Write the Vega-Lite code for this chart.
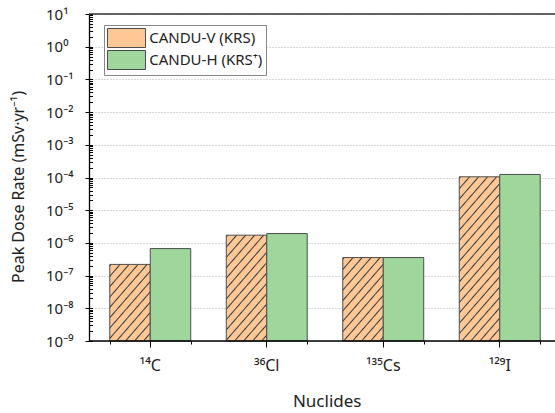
{
  "$schema": "https://vega.github.io/schema/vega-lite/v6.json",
  "width": 466,
  "height": 327,
  "autosize": {"type": "none"},
  "padding": {"left": 89, "top": 14, "right": 0, "bottom": 72},
  "background": "white",
  "config": {"view": {"stroke": null}, "font": "Noto Sans"},
  "data": {"values": [
    {"nuclide": "¹⁴C", "series": "CANDU-V (KRS)", "value": 2.2e-7},
    {"nuclide": "¹⁴C", "series": "CANDU-H (KRS⁺)", "value": 6.7e-7},
    {"nuclide": "³⁶Cl", "series": "CANDU-V (KRS)", "value": 1.72e-6},
    {"nuclide": "³⁶Cl", "series": "CANDU-H (KRS⁺)", "value": 1.93e-6},
    {"nuclide": "¹³⁵Cs", "series": "CANDU-V (KRS)", "value": 3.56e-7},
    {"nuclide": "¹³⁵Cs", "series": "CANDU-H (KRS⁺)", "value": 3.56e-7},
    {"nuclide": "¹²⁹I", "series": "CANDU-V (KRS)", "value": 1.05e-4},
    {"nuclide": "¹²⁹I", "series": "CANDU-H (KRS⁺)", "value": 1.24e-4}
  ]},
  "resolve": {"axis": {"x": "independent", "y": "independent"}},
  "layer": [
    {
      "mark": {"type": "bar", "stroke": "#4d4d4d", "strokeWidth": 1},
      "encoding": {
        "x": {"field": "nuclide", "type": "nominal", "sort": ["¹⁴C", "³⁶Cl", "¹³⁵Cs", "¹²⁹I"],
          "scale": {"range": [3, 469], "paddingInner": 0.305, "paddingOuter": 0.1525},
          "axis": {"orient": "bottom", "domain": false, "tickSize": 6, "tickColor": "#000", "labelAngle": 0,
            "labelFont": "Noto Sans", "labelFontSize": 16, "labelColor": "#222", "labelBaseline": "alphabetic", "labelPadding": 23.7,
            "title": "Nuclides", "titleFont": "Noto Sans", "titleFontSize": 17, "titleFontWeight": "normal", "titleColor": "#222",
            "titleX": 237.7, "titleY": 65.7, "titleBaseline": "alphabetic", "titleAlign": "center"}},
        "xOffset": {"field": "series", "type": "nominal", "sort": ["CANDU-V (KRS)", "CANDU-H (KRS⁺)"]},
        "y": {"field": "value", "type": "quantitative",
          "scale": {"type": "log", "domain": [1e-9, 10], "nice": false},
          "axis": {"orient": "left", "values": [1e-9, 1e-8, 1e-7, 1e-6, 1e-5, 1e-4, 0.001, 0.01, 0.1, 1, 10],
            "tickSize": 4, "tickColor": "#000", "domainColor": "#000", "domainWidth": 1.3,
            "labelFont": "Noto Sans", "labelFontSize": 15, "labelColor": "#222", "labelAlign": "left", "labelPadding": 39.5,
            "labelBaseline": "middle", "labelOverlap": false,
            "labelExpr": "'10' + (datum.value < 0.5 ? '⁻' : '') + substring('⁰¹²³⁴⁵⁶⁷⁸⁹', abs(round(log(datum.value)/LN10)), abs(round(log(datum.value)/LN10)) + 1)",
            "grid": true, "gridColor": "#b0b0b0", "gridDash": [1, 2], "gridWidth": 1,
            "title": "Peak Dose Rate (mSv·yr⁻¹)", "titleFont": "Noto Sans", "titleFontSize": 16, "titleFontWeight": "normal", "titleColor": "#222",
            "titleX": -65.5, "titleY": 172.5, "titleAngle": 270, "titleBaseline": "alphabetic", "titleAlign": "center"}},
        "y2": {"datum": 1e-9},
        "fill": {"field": "series", "type": "nominal",
          "scale": {"domain": ["CANDU-V (KRS)", "CANDU-H (KRS⁺)"], "range": ["#fdc896", "#9fd69c"]},
          "legend": {"orient": "none", "legendX": 15, "legendY": 11, "title": null, "padding": 3,
            "strokeColor": "#888", "fillColor": "#fff",
            "symbolType": "M-2,-1H2V1H-2Z", "symbolSize": 361, "symbolOffset": 9.5, "symbolStrokeColor": "#4d4d4d", "symbolStrokeWidth": 1, "symbolOpacity": 1,
            "labelFont": "Noto Sans", "labelFontSize": 15, "labelColor": "#222", "labelOffset": 12.7, "rowPadding": -3,
            "labelExpr": "datum.label + '\u00a0\u00a0\u00a0\u00a0\u00a0\u00a0\u00a0\u00a0\u00a0\u00a0\u00a0\u00a0\u00a0\u00a0\u00a0\u00a0\u00a0\u00a0\u00a0'"},
          "condition": [
            {"test": "datum.series === 'CANDU-V (KRS)' && datum.nuclide === '¹⁴C'",
              "value": {"gradient": "linear", "x1": 0, "y1": 0, "x2": 0.7196, "y2": 1.1841, "stops": [
                {"offset": 0, "color": "#fdc896"}, {"offset": 0.0125, "color": "#3a3a3a"}, {"offset": 0.025, "color": "#fdc896"},
                {"offset": 0.08333, "color": "#fdc896"}, {"offset": 0.09583, "color": "#3a3a3a"}, {"offset": 0.10833, "color": "#fdc896"},
                {"offset": 0.16667, "color": "#fdc896"}, {"offset": 0.17917, "color": "#3a3a3a"}, {"offset": 0.19167, "color": "#fdc896"},
                {"offset": 0.25, "color": "#fdc896"}, {"offset": 0.2625, "color": "#3a3a3a"}, {"offset": 0.275, "color": "#fdc896"},
                {"offset": 0.33333, "color": "#fdc896"}, {"offset": 0.34583, "color": "#3a3a3a"}, {"offset": 0.35833, "color": "#fdc896"},
                {"offset": 0.41667, "color": "#fdc896"}, {"offset": 0.42917, "color": "#3a3a3a"}, {"offset": 0.44167, "color": "#fdc896"},
                {"offset": 0.5, "color": "#fdc896"}, {"offset": 0.5125, "color": "#3a3a3a"}, {"offset": 0.525, "color": "#fdc896"},
                {"offset": 0.58333, "color": "#fdc896"}, {"offset": 0.59583, "color": "#3a3a3a"}, {"offset": 0.60833, "color": "#fdc896"},
                {"offset": 0.66667, "color": "#fdc896"}, {"offset": 0.67917, "color": "#3a3a3a"}, {"offset": 0.69167, "color": "#fdc896"},
                {"offset": 0.75, "color": "#fdc896"}, {"offset": 0.7625, "color": "#3a3a3a"}, {"offset": 0.775, "color": "#fdc896"},
                {"offset": 0.83333, "color": "#fdc896"}, {"offset": 0.84583, "color": "#3a3a3a"}, {"offset": 0.85833, "color": "#fdc896"},
                {"offset": 0.91667, "color": "#fdc896"}, {"offset": 0.92917, "color": "#3a3a3a"}, {"offset": 0.94167, "color": "#fdc896"}
              ]}},
            {"test": "datum.series === 'CANDU-V (KRS)' && datum.nuclide === '³⁶Cl'",
              "value": {"gradient": "linear", "x1": 0, "y1": 0, "x2": 0.5409, "y2": 1.2293, "stops": [
                {"offset": 0, "color": "#fdc896"}, {"offset": 0.01, "color": "#3a3a3a"}, {"offset": 0.02, "color": "#fdc896"},
                {"offset": 0.06667, "color": "#fdc896"}, {"offset": 0.07667, "color": "#3a3a3a"}, {"offset": 0.08667, "color": "#fdc896"},
                {"offset": 0.13333, "color": "#fdc896"}, {"offset": 0.14333, "color": "#3a3a3a"}, {"offset": 0.15333, "color": "#fdc896"},
                {"offset": 0.2, "color": "#fdc896"}, {"offset": 0.21, "color": "#3a3a3a"}, {"offset": 0.22, "color": "#fdc896"},
                {"offset": 0.26667, "color": "#fdc896"}, {"offset": 0.27667, "color": "#3a3a3a"}, {"offset": 0.28667, "color": "#fdc896"},
                {"offset": 0.33333, "color": "#fdc896"}, {"offset": 0.34333, "color": "#3a3a3a"}, {"offset": 0.35333, "color": "#fdc896"},
                {"offset": 0.4, "color": "#fdc896"}, {"offset": 0.41, "color": "#3a3a3a"}, {"offset": 0.42, "color": "#fdc896"},
                {"offset": 0.46667, "color": "#fdc896"}, {"offset": 0.47667, "color": "#3a3a3a"}, {"offset": 0.48667, "color": "#fdc896"},
                {"offset": 0.53333, "color": "#fdc896"}, {"offset": 0.54333, "color": "#3a3a3a"}, {"offset": 0.55333, "color": "#fdc896"},
                {"offset": 0.6, "color": "#fdc896"}, {"offset": 0.61, "color": "#3a3a3a"}, {"offset": 0.62, "color": "#fdc896"},
                {"offset": 0.66667, "color": "#fdc896"}, {"offset": 0.67667, "color": "#3a3a3a"}, {"offset": 0.68667, "color": "#fdc896"},
                {"offset": 0.73333, "color": "#fdc896"}, {"offset": 0.74333, "color": "#3a3a3a"}, {"offset": 0.75333, "color": "#fdc896"},
                {"offset": 0.8, "color": "#fdc896"}, {"offset": 0.81, "color": "#3a3a3a"}, {"offset": 0.82, "color": "#fdc896"},
                {"offset": 0.86667, "color": "#fdc896"}, {"offset": 0.87667, "color": "#3a3a3a"}, {"offset": 0.88667, "color": "#fdc896"},
                {"offset": 0.93333, "color": "#fdc896"}, {"offset": 0.94333, "color": "#3a3a3a"}, {"offset": 0.95333, "color": "#fdc896"}
              ]}},
            {"test": "datum.series === 'CANDU-V (KRS)' && datum.nuclide === '¹³⁵Cs'",
              "value": {"gradient": "linear", "x1": 0, "y1": 0, "x2": 0.6867, "y2": 1.2301, "stops": [
                {"offset": 0, "color": "#fdc896"}, {"offset": 0.01154, "color": "#3a3a3a"}, {"offset": 0.02308, "color": "#fdc896"},
                {"offset": 0.07692, "color": "#fdc896"}, {"offset": 0.08846, "color": "#3a3a3a"}, {"offset": 0.1, "color": "#fdc896"},
                {"offset": 0.15385, "color": "#fdc896"}, {"offset": 0.16538, "color": "#3a3a3a"}, {"offset": 0.17692, "color": "#fdc896"},
                {"offset": 0.23077, "color": "#fdc896"}, {"offset": 0.24231, "color": "#3a3a3a"}, {"offset": 0.25385, "color": "#fdc896"},
                {"offset": 0.30769, "color": "#fdc896"}, {"offset": 0.31923, "color": "#3a3a3a"}, {"offset": 0.33077, "color": "#fdc896"},
                {"offset": 0.38462, "color": "#fdc896"}, {"offset": 0.39615, "color": "#3a3a3a"}, {"offset": 0.40769, "color": "#fdc896"},
                {"offset": 0.46154, "color": "#fdc896"}, {"offset": 0.47308, "color": "#3a3a3a"}, {"offset": 0.48462, "color": "#fdc896"},
                {"offset": 0.53846, "color": "#fdc896"}, {"offset": 0.55, "color": "#3a3a3a"}, {"offset": 0.56154, "color": "#fdc896"},
                {"offset": 0.61538, "color": "#fdc896"}, {"offset": 0.62692, "color": "#3a3a3a"}, {"offset": 0.63846, "color": "#fdc896"},
                {"offset": 0.69231, "color": "#fdc896"}, {"offset": 0.70385, "color": "#3a3a3a"}, {"offset": 0.71538, "color": "#fdc896"},
                {"offset": 0.76923, "color": "#fdc896"}, {"offset": 0.78077, "color": "#3a3a3a"}, {"offset": 0.79231, "color": "#fdc896"},
                {"offset": 0.84615, "color": "#fdc896"}, {"offset": 0.85769, "color": "#3a3a3a"}, {"offset": 0.86923, "color": "#fdc896"},
                {"offset": 0.92308, "color": "#fdc896"}, {"offset": 0.93462, "color": "#3a3a3a"}, {"offset": 0.94615, "color": "#fdc896"}
              ]}},
            {"test": "datum.series === 'CANDU-V (KRS)' && datum.nuclide === '¹²⁹I'",
              "value": {"gradient": "linear", "x1": 0, "y1": 0, "x2": 0.3473, "y2": 1.2252, "stops": [
                {"offset": 0, "color": "#fdc896"}, {"offset": 0.00714, "color": "#3a3a3a"}, {"offset": 0.01429, "color": "#fdc896"},
                {"offset": 0.04762, "color": "#fdc896"}, {"offset": 0.05476, "color": "#3a3a3a"}, {"offset": 0.0619, "color": "#fdc896"},
                {"offset": 0.09524, "color": "#fdc896"}, {"offset": 0.10238, "color": "#3a3a3a"}, {"offset": 0.10952, "color": "#fdc896"},
                {"offset": 0.14286, "color": "#fdc896"}, {"offset": 0.15, "color": "#3a3a3a"}, {"offset": 0.15714, "color": "#fdc896"},
                {"offset": 0.19048, "color": "#fdc896"}, {"offset": 0.19762, "color": "#3a3a3a"}, {"offset": 0.20476, "color": "#fdc896"},
                {"offset": 0.2381, "color": "#fdc896"}, {"offset": 0.24524, "color": "#3a3a3a"}, {"offset": 0.25238, "color": "#fdc896"},
                {"offset": 0.28571, "color": "#fdc896"}, {"offset": 0.29286, "color": "#3a3a3a"}, {"offset": 0.3, "color": "#fdc896"},
                {"offset": 0.33333, "color": "#fdc896"}, {"offset": 0.34048, "color": "#3a3a3a"}, {"offset": 0.34762, "color": "#fdc896"},
                {"offset": 0.38095, "color": "#fdc896"}, {"offset": 0.3881, "color": "#3a3a3a"}, {"offset": 0.39524, "color": "#fdc896"},
                {"offset": 0.42857, "color": "#fdc896"}, {"offset": 0.43571, "color": "#3a3a3a"}, {"offset": 0.44286, "color": "#fdc896"},
                {"offset": 0.47619, "color": "#fdc896"}, {"offset": 0.48333, "color": "#3a3a3a"}, {"offset": 0.49048, "color": "#fdc896"},
                {"offset": 0.52381, "color": "#fdc896"}, {"offset": 0.53095, "color": "#3a3a3a"}, {"offset": 0.5381, "color": "#fdc896"},
                {"offset": 0.57143, "color": "#fdc896"}, {"offset": 0.57857, "color": "#3a3a3a"}, {"offset": 0.58571, "color": "#fdc896"},
                {"offset": 0.61905, "color": "#fdc896"}, {"offset": 0.62619, "color": "#3a3a3a"}, {"offset": 0.63333, "color": "#fdc896"},
                {"offset": 0.66667, "color": "#fdc896"}, {"offset": 0.67381, "color": "#3a3a3a"}, {"offset": 0.68095, "color": "#fdc896"},
                {"offset": 0.71429, "color": "#fdc896"}, {"offset": 0.72143, "color": "#3a3a3a"}, {"offset": 0.72857, "color": "#fdc896"},
                {"offset": 0.7619, "color": "#fdc896"}, {"offset": 0.76905, "color": "#3a3a3a"}, {"offset": 0.77619, "color": "#fdc896"},
                {"offset": 0.80952, "color": "#fdc896"}, {"offset": 0.81667, "color": "#3a3a3a"}, {"offset": 0.82381, "color": "#fdc896"},
                {"offset": 0.85714, "color": "#fdc896"}, {"offset": 0.86429, "color": "#3a3a3a"}, {"offset": 0.87143, "color": "#fdc896"},
                {"offset": 0.90476, "color": "#fdc896"}, {"offset": 0.9119, "color": "#3a3a3a"}, {"offset": 0.91905, "color": "#fdc896"},
                {"offset": 0.95238, "color": "#fdc896"}, {"offset": 0.95952, "color": "#3a3a3a"}, {"offset": 0.96667, "color": "#fdc896"}
              ]}}
          ]}
      }
    },
    {
      "mark": {"type": "bar", "opacity": 0},
      "encoding": {
        "x": {"field": "nuclide", "type": "nominal", "sort": ["¹⁴C", "³⁶Cl", "¹³⁵Cs", "¹²⁹I"],
          "axis": {"orient": "bottom", "tickBand": "extent", "tickSize": 3, "tickColor": "#000", "labels": false, "domain": false, "grid": false, "title": null}},
        "xOffset": {"field": "series", "type": "nominal", "sort": ["CANDU-V (KRS)", "CANDU-H (KRS⁺)"]},
        "y": {"field": "value", "type": "quantitative", "scale": {"type": "log", "domain": [1e-9, 10], "nice": false},
          "axis": {"orient": "left", "tickSize": -3.5, "tickColor": "#000", "labels": false, "domain": false, "grid": false, "title": null,
            "values": [1e-9, 2e-9, 3e-9, 4e-9, 5e-9, 6e-9, 7e-9, 8e-9, 9e-9,
              1e-8, 2e-8, 3e-8, 4e-8, 5e-8, 6e-8, 7e-8, 8e-8, 9e-8,
              1e-7, 2e-7, 3e-7, 4e-7, 5e-7, 6e-7, 7e-7, 8e-7, 9e-7,
              1e-6, 2e-6, 3e-6, 4e-6, 5e-6, 6e-6, 7e-6, 8e-6, 9e-6,
              1e-5, 2e-5, 3e-5, 4e-5, 5e-5, 6e-5, 7e-5, 8e-5, 9e-5,
              1e-4, 2e-4, 3e-4, 4e-4, 5e-4, 6e-4, 7e-4, 8e-4, 9e-4,
              0.001, 0.002, 0.003, 0.004, 0.005, 0.006, 0.007, 0.008, 0.009,
              0.01, 0.02, 0.03, 0.04, 0.05, 0.06, 0.07, 0.08, 0.09,
              0.1, 0.2, 0.3, 0.4, 0.5, 0.6, 0.7, 0.8, 0.9,
              1, 2, 3, 4, 5, 6, 7, 8, 9, 10]}}
      }
    },
    {
      "data": {"values": [{}]},
      "mark": {"type": "rule", "stroke": "#333", "strokeWidth": 1.3},
      "encoding": {"y": {"datum": 10, "type": "quantitative", "scale": {"type": "log", "domain": [1e-9, 10], "nice": false}, "axis": null}}
    },
    {
      "data": {"values": [{}]},
      "mark": {"type": "rule", "stroke": "#000", "strokeWidth": 1.3},
      "encoding": {"y": {"datum": 1e-9, "type": "quantitative", "scale": {"type": "log", "domain": [1e-9, 10], "nice": false}, "axis": null}}
    }
  ]
}
